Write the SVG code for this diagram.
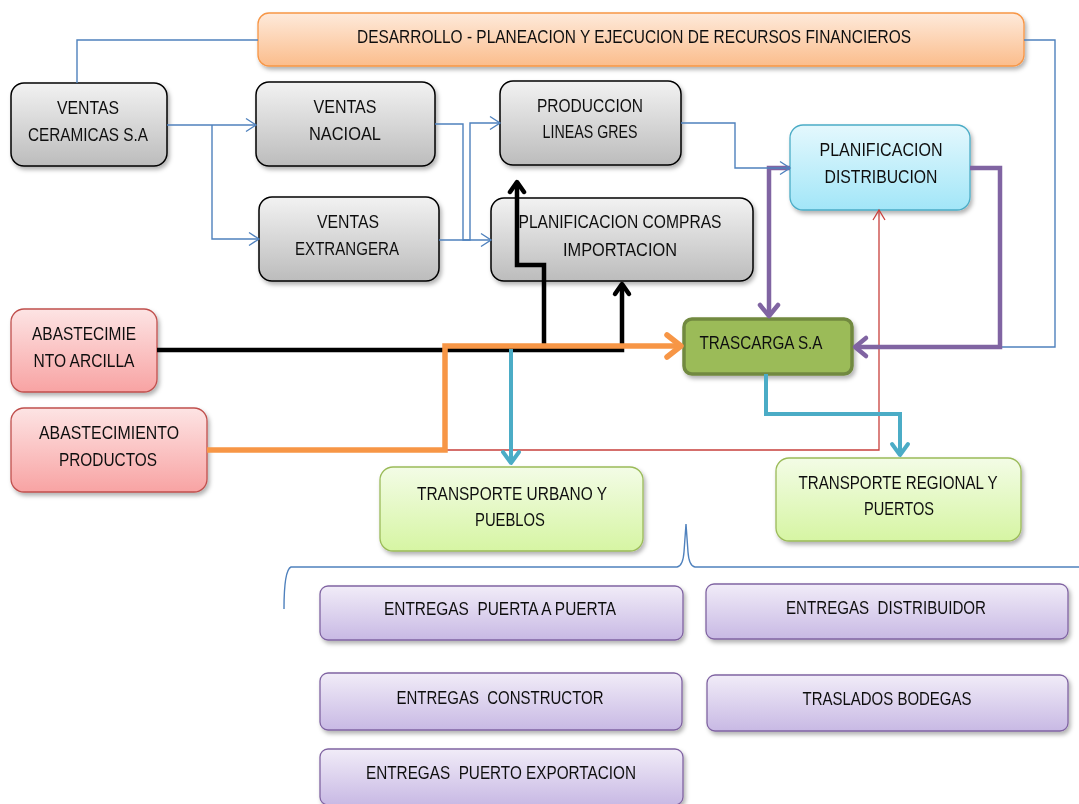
<svg xmlns="http://www.w3.org/2000/svg" width="1079" height="804" viewBox="0 0 1079 804">
  <defs>
    <style>
      text { font-family: "Liberation Sans", Arial, sans-serif; font-size: 18px; fill: #111; text-anchor: middle; }
      .box { filter: url(#shadow); }
      .gray { fill: url(#gGray); stroke: #000; stroke-width: 1.5; }
      .orange { fill: url(#gOrange); stroke: #f79646; stroke-width: 1.3; }
      .cyan { fill: url(#gCyan); stroke: #4bacc6; stroke-width: 1.3; }
      .olive { fill: #9bbb59; stroke: #71893f; stroke-width: 3.5; }
      .pink { fill: url(#gPink); stroke: #c0504d; stroke-width: 1.3; }
      .lime { fill: url(#gLime); stroke: #9bbb59; stroke-width: 1.3; }
      .lav { fill: url(#gLav); stroke: #8064a2; stroke-width: 1.3; }
      .thin { fill: none; stroke: #4f81bd; stroke-width: 1.4; }
      .red { fill: none; stroke: #c8403c; stroke-width: 1.3; }
      .blk { fill: none; stroke: #000; stroke-width: 4.5; }
      .pur { fill: none; stroke: #8064a2; stroke-width: 4.5; }
      .org { fill: none; stroke: #f79646; stroke-width: 5.5; }
      .teal { fill: none; stroke: #4bacc6; stroke-width: 4; }
    </style>
    <filter id="shadow" x="-10%" y="-10%" width="130%" height="140%">
      <feDropShadow dx="2" dy="3" stdDeviation="2" flood-color="#000" flood-opacity="0.3"/>
    </filter>
    <linearGradient id="gGray" x1="0" y1="0" x2="0" y2="1">
      <stop offset="0" stop-color="#f2f2f2"/><stop offset="1" stop-color="#bcbcbc"/>
    </linearGradient>
    <linearGradient id="gOrange" x1="0" y1="0" x2="0" y2="1">
      <stop offset="0" stop-color="#feeadb"/><stop offset="1" stop-color="#fbbd8c"/>
    </linearGradient>
    <linearGradient id="gCyan" x1="0" y1="0" x2="0" y2="1">
      <stop offset="0" stop-color="#e4f8fd"/><stop offset="1" stop-color="#a2e6f8"/>
    </linearGradient>
    <linearGradient id="gPink" x1="0" y1="0" x2="0" y2="1">
      <stop offset="0" stop-color="#fde4e4"/><stop offset="1" stop-color="#f8a3a3"/>
    </linearGradient>
    <linearGradient id="gLime" x1="0" y1="0" x2="0" y2="1">
      <stop offset="0" stop-color="#f3fce6"/><stop offset="1" stop-color="#d6f5a3"/>
    </linearGradient>
    <linearGradient id="gLav" x1="0" y1="0" x2="0" y2="1">
      <stop offset="0" stop-color="#f1ecf8"/><stop offset="1" stop-color="#c8b9e4"/>
    </linearGradient>
    <marker id="aBlue" markerUnits="userSpaceOnUse" markerWidth="20" markerHeight="20" viewBox="-12 -10 14 20" refX="0" refY="0" orient="auto" overflow="visible">
      <path d="M-10,-6.5 L0,0 L-10,6.5" fill="none" stroke="#4f81bd" stroke-width="1.4"/>
    </marker>
    <marker id="aRed" markerUnits="userSpaceOnUse" markerWidth="20" markerHeight="20" viewBox="-12 -10 14 20" refX="0" refY="0" orient="auto" overflow="visible">
      <path d="M-10,-6 L0,0 L-10,6" fill="none" stroke="#c8403c" stroke-width="1.3"/>
    </marker>
    <marker id="aBlk" markerUnits="userSpaceOnUse" markerWidth="30" markerHeight="30" viewBox="-15 -15 30 30" refX="0" refY="0" orient="auto" overflow="visible">
      <path d="M-10,-7 L0,0 L-10,7" fill="none" stroke="#000" stroke-width="4.5" stroke-linecap="round" stroke-linejoin="round"/>
    </marker>
    <marker id="aPur" markerUnits="userSpaceOnUse" markerWidth="30" markerHeight="30" viewBox="-15 -15 30 30" refX="0" refY="0" orient="auto" overflow="visible">
      <path d="M-11,-9 L0,0 L-11,9" fill="none" stroke="#8064a2" stroke-width="4.5" stroke-linecap="round" stroke-linejoin="round"/>
    </marker>
    <marker id="aOrg" markerUnits="userSpaceOnUse" markerWidth="30" markerHeight="30" viewBox="-18 -15 30 30" refX="0" refY="0" orient="auto" overflow="visible">
      <path d="M-14,-11 L0,0 L-14,11" fill="none" stroke="#f79646" stroke-width="5.5" stroke-linecap="round" stroke-linejoin="round"/>
    </marker>
    <marker id="aTeal" markerUnits="userSpaceOnUse" markerWidth="30" markerHeight="30" viewBox="-15 -15 30 30" refX="0" refY="0" orient="auto" overflow="visible">
      <path d="M-11,-8 L0,0 L-11,8" fill="none" stroke="#4bacc6" stroke-width="4" stroke-linecap="round" stroke-linejoin="round"/>
    </marker>
  </defs>

  <rect width="1079" height="804" fill="#fff"/>

  <!-- nodes -->
  <g id="desarrollo" class="box">
    <rect class="orange" x="258" y="13" width="766" height="53" rx="11"/>
    <text x="634" y="43" textLength="554" lengthAdjust="spacingAndGlyphs">DESARROLLO - PLANEACION Y EJECUCION DE RECURSOS FINANCIEROS</text>
  </g>
  <g id="ventas-ceramicas" class="box">
    <rect class="gray" x="11" y="83" width="156" height="83" rx="13"/>
    <text x="88" y="114" textLength="62" lengthAdjust="spacingAndGlyphs">VENTAS</text>
    <text x="88" y="141" textLength="120" lengthAdjust="spacingAndGlyphs">CERAMICAS S.A</text>
  </g>
  <g id="ventas-nacioal" class="box">
    <rect class="gray" x="256" y="82" width="179" height="84" rx="13"/>
    <text x="345" y="113" textLength="63" lengthAdjust="spacingAndGlyphs">VENTAS</text>
    <text x="345" y="140" textLength="72" lengthAdjust="spacingAndGlyphs">NACIOAL</text>
  </g>
  <g id="ventas-extrangera" class="box">
    <rect class="gray" x="259" y="197" width="180" height="84" rx="13"/>
    <text x="348" y="228" textLength="62" lengthAdjust="spacingAndGlyphs">VENTAS</text>
    <text x="347" y="255" textLength="104" lengthAdjust="spacingAndGlyphs">EXTRANGERA</text>
  </g>
  <g id="produccion" class="box">
    <rect class="gray" x="500" y="81" width="181" height="84" rx="13"/>
    <text x="590" y="112" textLength="106" lengthAdjust="spacingAndGlyphs">PRODUCCION</text>
    <text x="590" y="138" textLength="95" lengthAdjust="spacingAndGlyphs">LINEAS GRES</text>
  </g>
  <g id="planificacion-compras" class="box">
    <rect class="gray" x="491" y="198" width="262" height="83" rx="13"/>
    <text x="620" y="228" textLength="203" lengthAdjust="spacingAndGlyphs">PLANIFICACION COMPRAS</text>
    <text x="620" y="256" textLength="114" lengthAdjust="spacingAndGlyphs">IMPORTACION</text>
  </g>
  <g id="planificacion-distribucion" class="box">
    <rect class="cyan" x="790" y="125" width="180" height="85" rx="13"/>
    <text x="881" y="156" textLength="123" lengthAdjust="spacingAndGlyphs">PLANIFICACION</text>
    <text x="881" y="183" textLength="113" lengthAdjust="spacingAndGlyphs">DISTRIBUCION</text>
  </g>
  <g id="trascarga" class="box">
    <rect class="olive" x="684" y="319" width="168" height="55" rx="8"/>
    <text x="761" y="349" textLength="123" lengthAdjust="spacingAndGlyphs">TRASCARGA S.A</text>
  </g>
  <g id="abastecimiento-arcilla" class="box">
    <rect class="pink" x="11" y="309" width="146" height="83" rx="13"/>
    <text x="84" y="340" textLength="104" lengthAdjust="spacingAndGlyphs">ABASTECIMIE</text>
    <text x="84" y="367" textLength="101" lengthAdjust="spacingAndGlyphs">NTO ARCILLA</text>
  </g>
  <g id="abastecimiento-productos" class="box">
    <rect class="pink" x="11" y="408" width="196" height="84" rx="13"/>
    <text x="109" y="439" textLength="140" lengthAdjust="spacingAndGlyphs">ABASTECIMIENTO</text>
    <text x="108" y="466" textLength="98" lengthAdjust="spacingAndGlyphs">PRODUCTOS</text>
  </g>
  <g id="transporte-urbano" class="box">
    <rect class="lime" x="380" y="467" width="263" height="84" rx="13"/>
    <text x="512" y="500" textLength="190" lengthAdjust="spacingAndGlyphs">TRANSPORTE URBANO Y</text>
    <text x="510" y="526" textLength="70" lengthAdjust="spacingAndGlyphs">PUEBLOS</text>
  </g>
  <g id="transporte-regional" class="box">
    <rect class="lime" x="776" y="458" width="245" height="83" rx="13"/>
    <text x="898" y="489" textLength="199" lengthAdjust="spacingAndGlyphs">TRANSPORTE REGIONAL Y</text>
    <text x="899" y="515" textLength="70" lengthAdjust="spacingAndGlyphs">PUERTOS</text>
  </g>
  <g id="entregas-puerta" class="box">
    <rect class="lav" x="320" y="586" width="363" height="54" rx="8"/>
    <text x="500" y="615" textLength="232" lengthAdjust="spacingAndGlyphs" xml:space="preserve">ENTREGAS  PUERTA A PUERTA</text>
  </g>
  <g id="entregas-distribuidor" class="box">
    <rect class="lav" x="706" y="584" width="362" height="55" rx="8"/>
    <text x="886" y="614" textLength="200" lengthAdjust="spacingAndGlyphs" xml:space="preserve">ENTREGAS  DISTRIBUIDOR</text>
  </g>
  <g id="entregas-constructor" class="box">
    <rect class="lav" x="320" y="673" width="362" height="57" rx="8"/>
    <text x="500" y="704" textLength="207" lengthAdjust="spacingAndGlyphs" xml:space="preserve">ENTREGAS  CONSTRUCTOR</text>
  </g>
  <g id="traslados-bodegas" class="box">
    <rect class="lav" x="707" y="675" width="361" height="56" rx="8"/>
    <text x="887" y="705" textLength="169" lengthAdjust="spacingAndGlyphs">TRASLADOS BODEGAS</text>
  </g>
  <g id="entregas-puerto" class="box">
    <rect class="lav" x="320" y="749" width="363" height="56" rx="8"/>
    <text x="501" y="779" textLength="270" lengthAdjust="spacingAndGlyphs" xml:space="preserve">ENTREGAS  PUERTO EXPORTACION</text>
  </g>

  <!-- brace over the delivery group -->
  <g id="brace">
    <path class="thin" d="M284,609 Q284,570 291,567 L677,567 Q683,566 684,552 L686,524 L688,552 Q689,566 695,567 L1079,567"/>
  </g>

  <!-- connectors -->
  <g id="connectors">
    <!-- thin blue flows -->
    <path class="thin" d="M77,83 V40 H258"/>
    <path class="thin" d="M1024,40 H1055 V347 H1000"/>
    <path class="thin" d="M167,125 H212 V125 H256" marker-end="url(#aBlue)"/>
    <path class="thin" d="M212,125 V239 H259" marker-end="url(#aBlue)"/>
    <path class="thin" d="M435,124 H463 V240 H491" marker-end="url(#aBlue)"/>
    <path class="thin" d="M439,240 H470 V123 H500" marker-end="url(#aBlue)"/>

    <!-- supply to planning -->
    <path class="red" d="M207,450 H879 V210" marker-end="url(#aRed)"/>

    <!-- raw clay feeds -->
    <path class="blk" d="M157,350 H622 V284" marker-end="url(#aBlk)"/>
    <path class="blk" d="M544,350 V265 H517 V182" marker-end="url(#aBlk)"/>

    <!-- distribution loops -->
    <path class="pur" d="M970,168 H1000 V347 H855" marker-end="url(#aPur)"/>
    <path class="pur" d="M790,168 H769 V316" marker-end="url(#aPur)"/>
    <path class="thin" d="M681,123 H735 V168 H790" marker-end="url(#aBlue)"/>

    <!-- transport outputs -->
    <path class="teal" d="M511,349 V463" marker-end="url(#aTeal)"/>
    <path class="teal" d="M766,374 V414 H900 V455" marker-end="url(#aTeal)"/>

    <!-- products to carrier -->
    <path class="org" d="M207,450 H445 V346 H681" marker-end="url(#aOrg)"/>
  </g>
</svg>
